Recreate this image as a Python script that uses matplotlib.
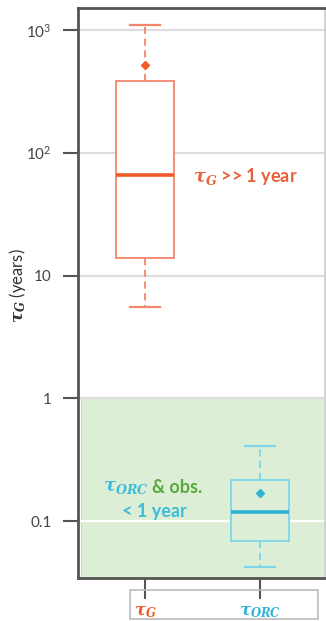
import matplotlib
matplotlib.use("Agg")
import matplotlib.pyplot as plt
from matplotlib.patches import Rectangle

# box statistics (years)
groups = ["G", "ORC"]
tick_labels = [r"$\tau_G$", r"$\tau_{ORC}$"]
q1 = [14, 0.069]
med = [66, 0.118]
q3 = [385, 0.215]
whislo = [5.5, 0.042]
whishi = [1100, 0.41]
means = [520, 0.169]

yticks = [0.1, 1, 10, 100, 1000]
ytick_labels = ["0.1", "1", "10", r"10$^{\mathregular{2}}$", r"10$^{\mathregular{3}}$"]

orange = "#f05a28"
orange_lt = "#f4866a"
cyan = "#2fb3d4"
cyan_lt = "#7dd5ea"
green_bg = "#dcefd6"
green_txt = "#5aa83c"
spine = "#555555"

plt.rcParams["font.family"] = ["Lato", "DejaVu Sans"]
# bold italic serif for the tau symbols
plt.rcParams["mathtext.fontset"] = "custom"
plt.rcParams["mathtext.it"] = "DejaVu Serif:italic:bold"
plt.rcParams["mathtext.rm"] = "Lato"

fig = plt.figure(figsize=(3.26, 6.21), dpi=100)
ax = fig.add_axes([0.239, 0.0692, 0.758, 0.918])
ax.set_yscale("log")
ax.set_ylim(0.0344, 1510)
ax.set_xlim(0.418, 2.564)

# shaded "< 1 year" band
ax.axhspan(0.0344, 1, xmin=0.012, xmax=1, facecolor=green_bg,
           edgecolor="#c9dcc3", lw=0.8, zorder=0.5)

# horizontal grid at each decade
for t in yticks:
    c = "white" if t < 1 else "#dedede"
    ax.axhline(t, color=c, lw=1.6, zorder=0.6)

stats = []
for i in range(len(groups)):
    stats.append(dict(label=groups[i], q1=q1[i], med=med[i], q3=q3[i],
                      whislo=whislo[i], whishi=whishi[i], mean=means[i],
                      fliers=[]))

edge_cols = [orange_lt, cyan_lt]
med_cols = [orange, cyan]
face_cols = ["white", green_bg]
for i, s in enumerate(stats):
    ax.bxp([s], positions=[i + 1], widths=0.5, capwidths=0.26,
           showmeans=True, patch_artist=True, manage_ticks=False,
           boxprops=dict(facecolor=face_cols[i], edgecolor=edge_cols[i], lw=1.3),
           medianprops=dict(color=med_cols[i], lw=2.6),
           whiskerprops=dict(color=edge_cols[i], lw=1.3, ls=(0, (4, 2.5))),
           capprops=dict(color=edge_cols[i], lw=1.6),
           meanprops=dict(marker="D", markersize=4.5, markerfacecolor=med_cols[i],
                          markeredgecolor=med_cols[i]))
    ax.patches[-1].set_zorder(2)

ax.set_yticks(yticks)
ax.set_yticklabels(ytick_labels)
ax.yaxis.set_minor_locator(matplotlib.ticker.NullLocator())
ax.tick_params(axis="y", length=11, width=1.5, color=spine, pad=8,
               labelsize=11, labelcolor="#444444")

ax.set_xticks([1, 2])
ax.set_xticklabels(tick_labels)
ax.tick_params(axis="x", length=15, width=1.5, color=spine, pad=4, labelsize=12)
for lbl, c in zip(ax.get_xticklabels(), [orange, cyan]):
    lbl.set_color(c)

for side in ["left", "bottom", "top"]:
    ax.spines[side].set_color(spine)
    ax.spines[side].set_linewidth(2)
ax.spines["right"].set_color("#cccccc")
ax.spines["right"].set_linewidth(1.2)

# frame around the category labels
fig.patches.append(Rectangle((0.399, 0.003), 0.577, 0.047, transform=fig.transFigure,
                             facecolor="none", edgecolor="#bbbbbb", lw=1.2))

fig.text(0.055, 0.54, r"$\tau_G$ (years)", rotation=90,
         ha="center", va="center", fontsize=12, color="#333333")

ax.text(0.466, 0.7035, r"$\tau_G$ >> 1 year", transform=ax.transAxes,
        ha="left", va="center", fontsize=13, fontweight="bold", color="#e8603c")
ax.text(0.287, 0.158, r"$\tau_{ORC}$", transform=ax.transAxes,
        ha="right", va="center", fontsize=13, color="#3bbcd9")
ax.text(0.30, 0.158, "& obs.", transform=ax.transAxes,
        ha="left", va="center", fontsize=13, fontweight="bold", color=green_txt)
ax.text(0.308, 0.1175, "< 1 year", transform=ax.transAxes,
        ha="center", va="center", fontsize=13, fontweight="bold", color="#3bbcd9")

fig.savefig("out.png", dpi=100)
